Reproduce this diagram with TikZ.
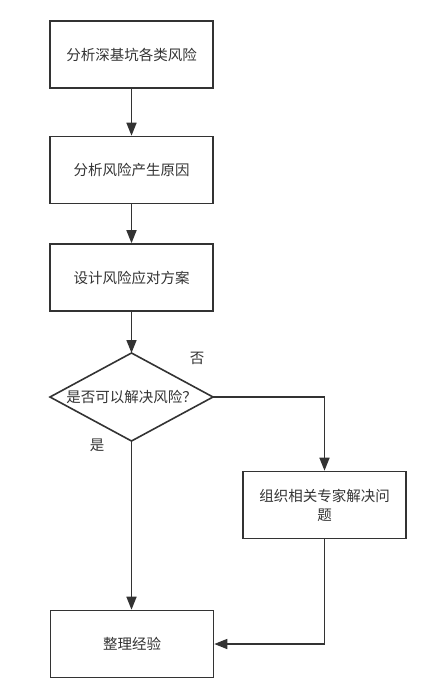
\documentclass[tikz,border=0pt]{standalone}
\usepackage{fontspec}
\newfontfamily\cjk{Noto Sans CJK SC}
\usetikzlibrary{arrows.meta,shapes.geometric}
\definecolor{ln}{HTML}{333333}
\definecolor{tx}{HTML}{333333}
\tikzset{
  box/.style={draw=ln, line width=1.6pt, minimum width=163pt, minimum height=67pt, inner sep=0pt, font=\cjk\fontsize{14.5}{19}\selectfont, text=tx, align=center},
  conn/.style={draw=ln, line width=1.6pt, -{Triangle[length=13pt,width=10pt]}},
  lbl/.style={font=\cjk\fontsize{14.5}{19}\selectfont, text=tx}
}
\begin{document}
\begin{tikzpicture}[x=1pt,y=-1pt]
\useasboundingbox (0,0) rectangle (432,688);
\node[box] (b1) at (131.5,54.5) {分析深基坑各类风险};
\node[box] (b2) at (131.5,170) {分析风险产生原因};
\node[box] (b3) at (131.5,277.5) {设计风险应对方案};
\coordinate (dt) at (131.5,353);
\coordinate (dl) at (50,397);
\coordinate (dr) at (213,397);
\coordinate (db) at (131.5,441);
\draw[ln, line width=1.6pt, line join=miter] (dt) -- (dr) -- (db) -- (dl) -- cycle;
\node[lbl] (q) at (131.5,397) {是否可以解决风险？};
\node[box] (b4) at (324.5,505) {组织相关专家解决问\\题};
\node[box] (b5) at (132,644) {整理经验};
\node[lbl] (no) at (197,358) {否};
\node[lbl] (yes) at (97,445) {是};
\coordinate (c1) at (324.5,397);
\coordinate (c2) at (324.5,644);
\draw[conn] (b1) -- (b2);
\draw[conn] (b2) -- (b3);
\draw[conn] (b3) -- (dt);
\draw[conn] (db) -- (db |- b5.north);
\draw[conn] (dr) -- (c1) -- (b4);
\draw[conn] (b4) -- (c2) -- (b5);
\end{tikzpicture}
\end{document}
